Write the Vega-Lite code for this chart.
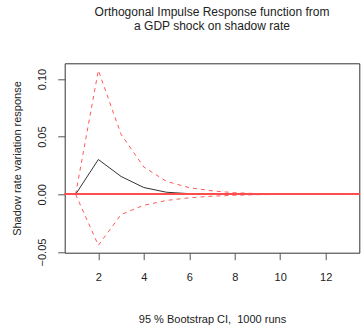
{
  "$schema": "https://vega.github.io/schema/vega-lite/v6.json",
  "width": 294.6,
  "height": 189.4,
  "autosize": {"type": "none"},
  "padding": {"left": 64.7, "top": 63.3, "right": 1.7, "bottom": 72.3},
  "background": "white",
  "title": {
    "text": ["Orthogonal Impulse Response function from", "a GDP shock on shadow rate"],
    "font": "Liberation Sans",
    "fontSize": 12,
    "fontWeight": "normal",
    "color": "#222222",
    "anchor": "middle",
    "baseline": "alphabetic",
    "lineHeight": 13.5,
    "offset": 21.5
  },
  "config": {
    "view": {"stroke": "#333333", "strokeWidth": 1},
    "axis": {
      "labelFont": "Liberation Sans",
      "titleFont": "Liberation Sans",
      "labelFontSize": 11,
      "titleFontSize": 11,
      "titleFontWeight": "normal",
      "labelColor": "#222222",
      "titleColor": "#222222",
      "tickColor": "#555555",
      "tickSize": 7,
      "grid": false,
      "domain": false
    }
  },
  "data": {
    "values": [
      {"step": 1, "irf": 0, "lower": 0, "upper": 0},
      {"step": 2, "irf": 0.0302, "lower": -0.0442, "upper": 0.1075},
      {"step": 3, "irf": 0.0155, "lower": -0.0175, "upper": 0.052},
      {"step": 4, "irf": 0.0059, "lower": -0.0095, "upper": 0.0237},
      {"step": 5, "irf": 0.0018, "lower": -0.0053, "upper": 0.0112},
      {"step": 6, "irf": 0.0006, "lower": -0.003, "upper": 0.0058},
      {"step": 7, "irf": 0.0002, "lower": -0.0016, "upper": 0.003},
      {"step": 8, "irf": 0.0001, "lower": -0.0008, "upper": 0.0014},
      {"step": 9, "irf": 0, "lower": -0.0003, "upper": 0.0006},
      {"step": 10, "irf": 0, "lower": -0.0001, "upper": 0.0003},
      {"step": 11, "irf": 0, "lower": 0, "upper": 0.0001},
      {"step": 12, "irf": 0, "lower": 0, "upper": 0},
      {"step": 13, "irf": 0, "lower": 0, "upper": 0}
    ]
  },
  "layer": [
    {
      "mark": {"type": "line", "color": "#ff3b3b", "strokeWidth": 1, "strokeDash": [4, 4], "opacity": 0.85},
      "encoding": {
        "x": {
          "field": "step",
          "type": "quantitative",
          "scale": {"domain": [0.52, 13.48], "nice": false, "zero": false},
          "axis": {
            "values": [2, 4, 6, 8, 10, 12],
            "title": "95 % Bootstrap CI,\u00a0 1000 runs",
            "labelPadding": 12,
            "titlePadding": 31
          }
        },
        "y": {
          "field": "upper",
          "type": "quantitative",
          "scale": {"domain": [-0.0506, 0.1136], "nice": false, "zero": false},
          "axis": {
            "values": [-0.05, 0, 0.05, 0.1],
            "format": ".2f",
            "title": "Shadow rate variation response",
            "labelAngle": -90,
            "labelAlign": "center",
            "labelBaseline": "bottom",
            "labelPadding": 10,
            "titlePadding": 14
          }
        }
      }
    },
    {
      "mark": {"type": "line", "color": "#ff3b3b", "strokeWidth": 1, "strokeDash": [4, 4], "opacity": 0.85},
      "encoding": {
        "x": {"field": "step", "type": "quantitative"},
        "y": {"field": "lower", "type": "quantitative"}
      }
    },
    {
      "mark": {"type": "line", "color": "#333333", "strokeWidth": 1},
      "encoding": {
        "x": {"field": "step", "type": "quantitative"},
        "y": {"field": "irf", "type": "quantitative"}
      }
    },
    {
      "mark": {"type": "rule", "color": "#ff4d4d", "strokeWidth": 1.2},
      "encoding": {"y": {"datum": 0}}
    }
  ]
}
